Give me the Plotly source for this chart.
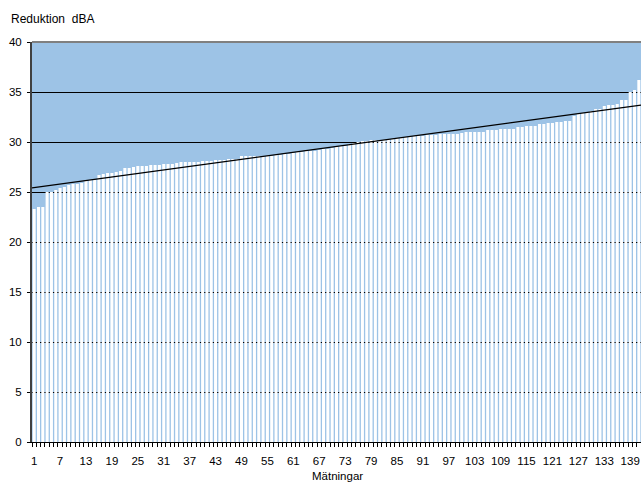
import numpy as np
import plotly.graph_objects as go

# Measured noise reduction per measurement (dBA), sorted ascending
measurement_no = list(range(1, 142))
reduction_dba = [
    23.3, 23.5, 23.5, 25.0, 25.0, 25.2, 25.4, 25.5, 25.7, 25.8,
    25.8, 25.9, 26.1, 26.2, 26.2, 26.7, 26.8, 26.9, 26.9, 27.0,
    27.1, 27.4, 27.4, 27.5, 27.6, 27.6, 27.6, 27.7, 27.7, 27.7,
    27.8, 27.8, 27.8, 27.9, 28.0, 28.0, 28.0, 28.0, 28.0, 28.1,
    28.1, 28.1, 28.2, 28.2, 28.2, 28.3, 28.3, 28.3, 28.6, 28.6,
    28.6, 28.6, 28.6, 28.6, 28.6, 28.6, 28.7, 28.7, 28.8, 28.8,
    28.9, 29.0, 29.0, 29.1, 29.1, 29.1, 29.2, 29.3, 29.3, 29.4,
    29.5, 29.6, 29.6, 29.8, 29.9, 30.0, 30.1, 30.1, 30.2, 30.2,
    30.2, 30.2, 30.3, 30.3, 30.4, 30.4, 30.5, 30.5, 30.6, 30.6,
    30.6, 30.7, 30.7, 30.7, 30.8, 30.8, 30.8, 30.8, 30.8, 30.9,
    31.0, 31.0, 31.0, 31.0, 31.0, 31.2, 31.2, 31.2, 31.3, 31.3,
    31.3, 31.3, 31.5, 31.5, 31.6, 31.6, 31.6, 31.8, 31.8, 31.9,
    31.9, 32.0, 32.0, 32.1, 32.1, 32.6, 32.8, 32.9, 33.0, 33.1,
    33.3, 33.3, 33.6, 33.7, 33.7, 33.8, 34.2, 34.2, 35.0, 35.2,
    36.2,
]
x_tick_labels = list(range(1, 142, 6))
y_ticks = list(range(0, 45, 5))

# Linear trend across all measurements
slope, intercept = np.polyfit(measurement_no, reduction_dba, 1)
trend_x = [0.5, len(measurement_no) + 0.5]
trend_y = [slope * v + intercept for v in trend_x]

FONT = "Arial, Liberation Sans, sans-serif"

fig = go.Figure()
fig.add_trace(go.Bar(
    x=measurement_no, y=reduction_dba,
    marker=dict(color="white", line=dict(width=0)),
    hoverinfo="x+y",
))
fig.add_trace(go.Scatter(
    x=trend_x, y=trend_y, mode="lines",
    line=dict(color="black", width=1.2),
    hoverinfo="skip",
))

fig.update_layout(
    width=641, height=485,
    margin=dict(l=32, r=0, t=42, b=43),
    paper_bgcolor="white",
    plot_bgcolor="#9DC3E6",
    showlegend=False,
    bargap=0.3,
    font=dict(family=FONT, size=11, color="black"),
    xaxis=dict(
        range=[0.5, len(measurement_no) + 0.5],
        tickmode="array", tickvals=x_tick_labels,
        ticktext=[str(v) for v in x_tick_labels],
        ticks="", showgrid=False, zeroline=False,
        showline=True, linecolor="black", linewidth=1,
        tickfont=dict(size=11.5),
        ticklabelstandoff=8,
        minor=dict(tickmode="linear", tick0=0.5, dtick=1,
                   ticks="outside", ticklen=4, tickcolor="black",
                   tickwidth=1, showgrid=False),
    ),
    yaxis=dict(
        range=[0, 40], tickmode="array", tickvals=y_ticks,
        ticks="outside", ticklen=3, tickcolor="black",
        showgrid=True, gridcolor="black", gridwidth=1,
        zeroline=False,
        showline=True, linecolor="#404040", linewidth=2,
        tickfont=dict(size=11.5),
        ticklabelstandoff=3,
    ),
    shapes=[dict(type="line", xref="paper", yref="paper",
                 x0=0, x1=1, y0=1, y1=1,
                 line=dict(color="#808080", width=2))],
    annotations=[
        dict(text="Reduktion\u00a0\u00a0dBA", xref="paper", yref="paper",
             x=(9 - 32) / 609, y=1 + (42 - 19) / 400,
             xanchor="left", yanchor="middle", showarrow=False,
             font=dict(size=12)),
        dict(text="Mätningar", xref="paper", yref="paper",
             x=(337 - 32) / 609, y=-(476 - 442) / 400,
             xanchor="center", yanchor="middle", showarrow=False,
             font=dict(size=11.5)),
    ],
)

fig.write_html("out.html")
